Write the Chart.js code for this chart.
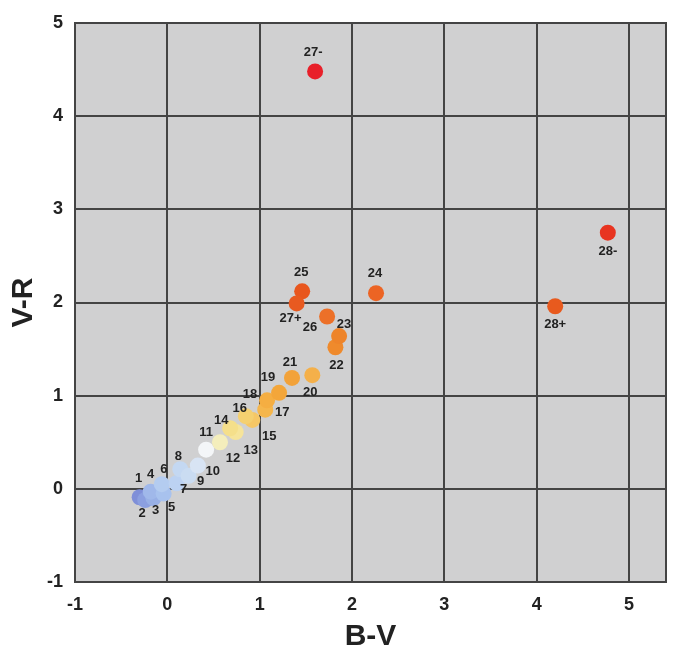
<!DOCTYPE html>
<html>
<head>
<meta charset="utf-8">
<script src="https://cdn.jsdelivr.net/npm/chart.js@4/dist/chart.umd.min.js"></script>
<style>
  body { margin: 0; background: #ffffff; }
  #wrap { width: 674px; height: 656px; }
</style>
</head>
<body>
<div id="wrap"><canvas id="ccd" width="674" height="656"></canvas></div>
<script>
// star names and colour indices
const names = ['1', '2', '3', '4', '5', '6', '7', '8', '9', '10',
    '11', '12', '13', '14', '15', '16', '17', '18', '19', '20',
    '21', '22', '23', '24', '25', '26', '27+', '27-', '28+', '28-'];
const bv = [-0.30, -0.24, -0.15, -0.18, -0.04, -0.06, 0.10, 0.14, 0.23, 0.33,
    0.42, 0.57, 0.74, 0.68, 0.92, 0.85, 1.06, 1.08, 1.21, 1.57,
    1.35, 1.82, 1.86, 2.26, 1.46, 1.73, 1.40, 1.60, 4.20, 4.77];
const vr = [-0.09, -0.12, -0.10, -0.03, -0.05, 0.05, 0.06, 0.21, 0.14, 0.25,
    0.42, 0.50, 0.61, 0.65, 0.74, 0.78, 0.85, 0.95, 1.03, 1.22,
    1.19, 1.52, 1.64, 2.10, 2.12, 1.85, 1.99, 4.48, 1.96, 2.75];
const xTicks = [-1, 0, 1, 2, 3, 4, 5];
const yTicks = [-1, 0, 1, 2, 3, 4, 5];

// point colours (blue -> white -> yellow -> orange -> red)
const colores = ['#7f8fd8', '#8b9fe0', '#98b0e6', '#a0b8ea', '#a8c2ee', '#b4ccf0', '#bcd2f2', '#c4d8f2', '#cadcf2', '#d8e4f4',
    '#f4f6f8', '#f4eebc', '#f6e49a', '#f5df8a', '#f6c766', '#f5d070', '#f5b64c', '#f5ae42', '#f3a63a', '#f4b04a',
    '#f2a23a', '#ef8a2c', '#ee842a', '#ec6424', '#e8561e', '#ec7028', '#e85a20', '#e8202a', '#e85a1e', '#e83420'];
// where each name sits relative to its point, in pixels
const etiquetaOffset = [[-1, -19], [-3, 13], [2, 12], [0, -17], [8, 14], [2, -15], [7, 6], [-2, -13], [12, 6], [15, 6],
    [0, -17], [13, 16], [15, 18], [-9, -8], [17, 17], [-6, -8], [17, 3], [-17, -6], [-11, -15], [-2, 17],
    [-2, -16], [1, 18], [5, -12], [-1, -20], [-1, -19], [-17, 11], [-6, 15], [-2, -19], [0, 18], [0, 19]];

const puntos = bv.map((x, i) => ({ x: x, y: vr[i] }));
const gridColor = '#444444';

const fondoPlot = {
    id: 'fondoPlot',
    beforeDraw(chart) {
        const a = chart.chartArea;
        const c = chart.ctx;
        c.save();
        c.fillStyle = '#d0d0d1';
        c.fillRect(a.left, a.top, a.right - a.left, a.bottom - a.top);
        c.restore();
    },
    beforeDatasetsDraw(chart) {
        const a = chart.chartArea;
        const c = chart.ctx;
        c.save();
        c.strokeStyle = gridColor;
        c.lineWidth = 2;
        c.strokeRect(a.left, a.top, a.right - a.left, a.bottom - a.top);
        c.restore();
    }
};

const etiquetas = {
    id: 'etiquetas',
    afterDatasetsDraw(chart) {
        const c = chart.ctx;
        const meta = chart.getDatasetMeta(0);
        c.save();
        c.font = 'bold 13px "Liberation Sans", Arial, sans-serif';
        c.fillStyle = '#222';
        c.textAlign = 'center';
        c.textBaseline = 'middle';
        meta.data.forEach((p, i) => {
            const off = etiquetaOffset[i];
            c.fillText(names[i], p.x + off[0], p.y + off[1]);
        });
        c.restore();
    }
};

const tickFont = { family: '"Liberation Sans", Arial, sans-serif', size: 18, weight: 'bold' };
const titleFont = { family: '"Liberation Sans", Arial, sans-serif', size: 30, weight: 'bold' };

new Chart(document.getElementById('ccd'), {
    type: 'scatter',
    data: {
        datasets: [{
            label: 'V-R vs B-V',
            data: puntos,
            backgroundColor: colores,
            borderWidth: 0,
            pointRadius: 8,
            pointHoverRadius: 8
        }]
    },
    options: {
        responsive: false,
        animation: false,
        layout: { padding: { top: 23, right: 3, left: 0, bottom: 0 } },
        plugins: { legend: { display: false }, tooltip: { enabled: false } },
        scales: {
            x: {
                type: 'linear',
                min: -1,
                max: 5.4,
                afterBuildTicks: s => { s.ticks = xTicks.map(v => ({ value: v })); },
                afterFit: s => { s.height = 74; },
                ticks: { padding: 12, font: tickFont, color: '#222' },
                grid: { color: gridColor, lineWidth: 2, drawTicks: false },
                border: { color: gridColor, width: 2 },
                title: { display: true, text: 'B-V', font: titleFont, color: '#222', padding: { top: 0, bottom: 1 } }
            },
            y: {
                type: 'linear',
                min: -1,
                max: 5,
                afterBuildTicks: s => { s.ticks = yTicks.map(v => ({ value: v })); },
                afterFit: s => { s.width = 75; },
                ticks: { padding: 12, font: tickFont, color: '#222' },
                grid: { color: gridColor, lineWidth: 2, drawTicks: false },
                border: { color: gridColor, width: 2 },
                title: { display: true, text: 'V-R', font: titleFont, color: '#222', padding: { top: 6, bottom: 0 } }
            }
        }
    },
    plugins: [fondoPlot, etiquetas]
});
</script>
</body>
</html>
